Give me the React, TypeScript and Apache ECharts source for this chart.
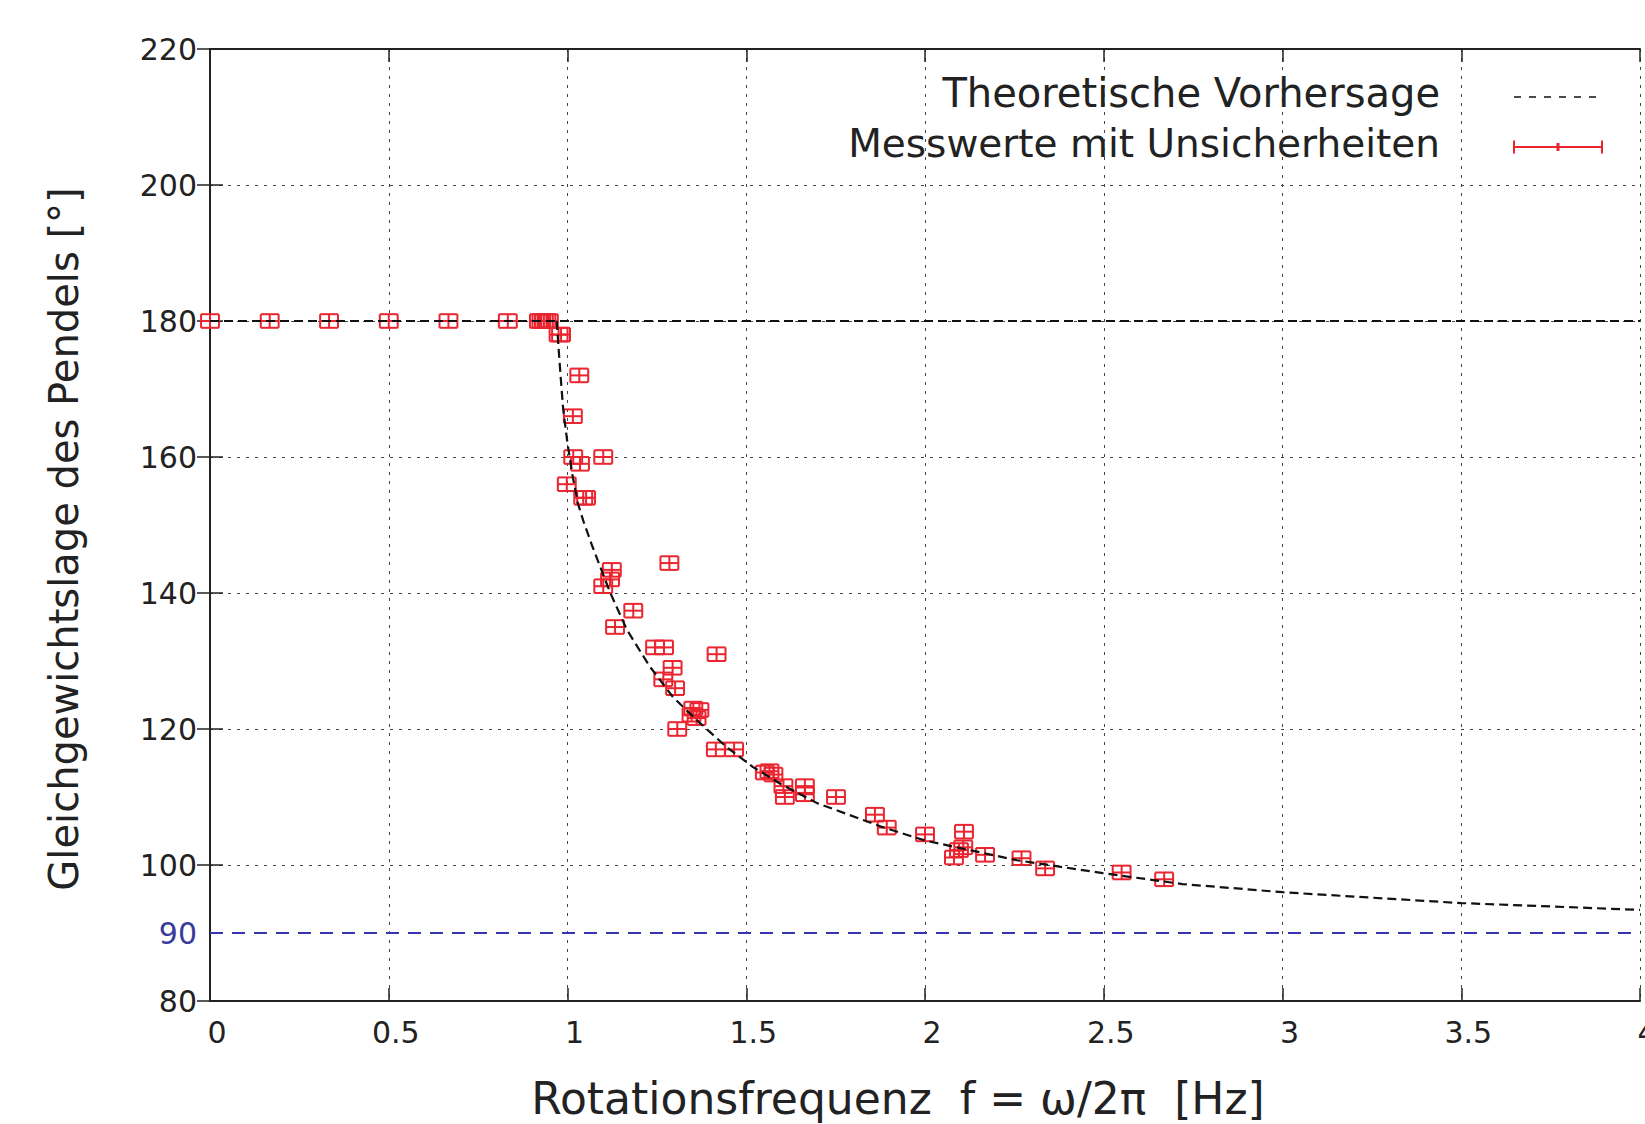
import React, { useEffect, useRef } from "react";
import * as echarts from "echarts";

// Measured values (frequency in Hz, equilibrium angle in degrees)
const measFreq = [
  0, 0.167, 0.333, 0.5, 0.667, 0.833, 0.92, 0.927, 0.934, 0.941, 0.948,
  0.975, 0.982, 1.033, 1.015, 1.016, 1.035, 1.1, 0.998, 1.044, 1.052,
  1.124, 1.119, 1.1, 1.285, 1.184, 1.133, 1.245, 1.27, 1.417, 1.294,
  1.268, 1.301, 1.352, 1.369, 1.361, 1.347, 1.307, 1.415, 1.466, 1.552,
  1.565, 1.576, 1.604, 1.664, 1.608, 1.664, 1.751, 1.86, 1.893, 2.0,
  2.109, 2.107, 2.095, 2.081, 2.168, 2.27, 2.336, 2.55, 2.669,
];
const measAngle = [
  180, 180, 180, 180, 180, 180, 180, 180, 180, 180, 180,
  178, 178, 172, 166, 160, 159, 160, 156, 154, 154,
  143.4, 142, 141, 144.4, 137.4, 135, 132, 132, 131, 129,
  127.3, 126, 123, 122.8, 121.6, 122.1, 120, 117, 117, 113.6,
  113.8, 113.3, 111.6, 111.6, 110, 110.4, 110, 107.4, 105.5, 104.5,
  104.9, 102.6, 102.2, 101.1, 101.5, 101.0, 99.5, 98.9, 97.9,
];
const freqErr = 0.025;
const angleErr = 1.0;

// Theoretical prediction
const theoryFlatX = [0, 4];
const theoryFlatY = [180, 180];
const theoryX = [
  0.97, 0.975, 0.982, 0.988, 1.0, 1.015, 1.03, 1.045, 1.07, 1.119, 1.166,
  1.23, 1.295, 1.37, 1.446, 1.519, 1.6, 1.698, 1.88, 2.0, 2.257, 2.497,
  2.72, 3.0, 3.28, 3.5, 4.0,
];
const theoryY = [
  180, 176, 171, 167, 162, 157, 153, 150.5, 146.8, 140.1, 134.6,
  129.2, 124.7, 120.9, 117.3, 114.4, 111.8, 109.1, 105.6, 103.6, 100.7, 98.8,
  97.2, 96.0, 95.1, 94.4, 93.4,
];

const xTicks = { min: 0, max: 4, interval: 0.5 };
const yTicks = { min: 80, max: 220, interval: 20 };
const refAngle = 90;

const RED = "#ea2530";
const BLUE = "#3535b0";
const FONT = "'DejaVu Sans', sans-serif";

export default function App() {
  const ref = useRef<HTMLDivElement>(null);
  useEffect(() => {
    if (!ref.current) return;
    const chart = echarts.init(ref.current, null, { renderer: "svg" });
    const gridLine = { show: true, lineStyle: { color: "#444", width: 1, type: [3, 6] } };
    const axisLine = { show: true, lineStyle: { color: "#222", width: 2 } };
    const tick = { show: true, inside: true, length: 13, lineStyle: { color: "#222", width: 1.5 } };
    const option: any = {
      animation: false,
      backgroundColor: "#fff",
      grid: { left: 210, right: 5, top: 49, bottom: 123, containLabel: false, outerBoundsMode: "none" },
      xAxis: [
        {
          type: "value", position: "bottom", ...xTicks,
          axisLine, axisTick: tick, splitLine: gridLine,
          axisLabel: { color: "#222", fontFamily: FONT, fontSize: 30, margin: 16, padding: [0, 0, 0, 14] },
        },
        {
          type: "value", position: "top", ...xTicks,
          axisLine, axisTick: tick, splitLine: { show: false }, axisLabel: { show: false },
        },
      ],
      yAxis: [
        {
          type: "value", position: "left", ...yTicks,
          axisLine, axisTick: tick, splitLine: gridLine,
          axisLabel: { color: "#222", fontFamily: FONT, fontSize: 30, margin: 13 },
        },
        {
          type: "value", position: "right", ...yTicks,
          axisLine, axisTick: tick, splitLine: { show: false }, axisLabel: { show: false },
        },
      ],
      series: [
        {
          type: "line",
          name: "Theoretische Vorhersage",
          data: theoryFlatX.map((x, i) => [x, theoryFlatY[i]]),
          showSymbol: false,
          symbol: "none",
          lineStyle: { color: "#111", width: 1.8, type: [9, 5] },
          silent: true,
          markLine: {
            silent: true,
            symbol: "none",
            data: [{ yAxis: refAngle }],
            lineStyle: { color: BLUE, width: 2, type: [13, 9] },
            label: {
              show: true, position: "start", formatter: String(refAngle), distance: 13,
              color: "#3b3b9c", fontFamily: FONT, fontSize: 30,
            },
          },
        },
        {
          type: "line",
          name: "Theoretische Vorhersage",
          data: theoryX.map((x, i) => [x, theoryY[i]]),
          showSymbol: false,
          symbol: "none",
          lineStyle: { color: "#111", width: 2.2, type: [9, 5] },
          silent: true,
        },
        {
          type: "custom",
          name: "Messwerte mit Unsicherheiten",
          data: measFreq.map((f, i) => [f, measAngle[i]]),
          encode: { x: 0, y: 1 },
          clip: false,
          silent: true,
          renderItem: (params: any, api: any) => {
            const x = api.value(0);
            const y = api.value(1);
            const c = api.coord([x, y]);
            const l = api.coord([x - freqErr, y])[0];
            const r = api.coord([x + freqErr, y])[0];
            const t = api.coord([x, y + angleErr])[1];
            const b = api.coord([x, y - angleErr])[1];
            const style = { stroke: RED, lineWidth: 2, fill: null };
            return {
              type: "group",
              children: [
                { type: "line", shape: { x1: l, y1: c[1], x2: r, y2: c[1] }, style },
                { type: "line", shape: { x1: c[0], y1: t, x2: c[0], y2: b }, style },
                { type: "line", shape: { x1: l, y1: t, x2: l, y2: b }, style },
                { type: "line", shape: { x1: r, y1: t, x2: r, y2: b }, style },
                { type: "line", shape: { x1: l, y1: t, x2: r, y2: t }, style },
                { type: "line", shape: { x1: l, y1: b, x2: r, y2: b }, style },
              ],
            };
          },
        },
      ],
      graphic: [
        {
          type: "text", x: 898, y: 1098,
          style: { text: "Rotationsfrequenz  f = ω/2π  [Hz]", font: `44px ${FONT}`, fill: "#222", align: "center", verticalAlign: "middle" },
        },
        {
          type: "text", x: 64, y: 539, rotation: Math.PI / 2,
          style: { text: "Gleichgewichtslage des Pendels [°]", font: `40px ${FONT}`, fill: "#222", align: "center", verticalAlign: "middle" },
        },
        {
          type: "text", x: 1440, y: 93,
          style: { text: "Theoretische Vorhersage", font: `40px ${FONT}`, fill: "#222", align: "right", verticalAlign: "middle" },
        },
        {
          type: "text", x: 1440, y: 143,
          style: { text: "Messwerte mit Unsicherheiten", font: `39px ${FONT}`, fill: "#222", align: "right", verticalAlign: "middle" },
        },
        {
          type: "line", shape: { x1: 1514, y1: 97, x2: 1598, y2: 97 },
          style: { stroke: "#111", lineWidth: 1.6, lineDash: [7, 8] },
        },
        {
          type: "group",
          children: [
            { type: "line", shape: { x1: 1514, y1: 147, x2: 1602, y2: 147 }, style: { stroke: RED, lineWidth: 2 } },
            { type: "line", shape: { x1: 1514, y1: 140.5, x2: 1514, y2: 153.5 }, style: { stroke: RED, lineWidth: 2 } },
            { type: "line", shape: { x1: 1602, y1: 140.5, x2: 1602, y2: 153.5 }, style: { stroke: RED, lineWidth: 2 } },
            { type: "line", shape: { x1: 1558, y1: 143, x2: 1558, y2: 151 }, style: { stroke: RED, lineWidth: 3 } },
          ],
        },
      ],
    };
    chart.setOption(option);
    return () => chart.dispose();
  }, []);
  return (
    <div
      ref={ref}
      style={{ position: "absolute", left: 0, top: 0, width: 1645, height: 1124, background: "#fff" }}
    />
  );
}
